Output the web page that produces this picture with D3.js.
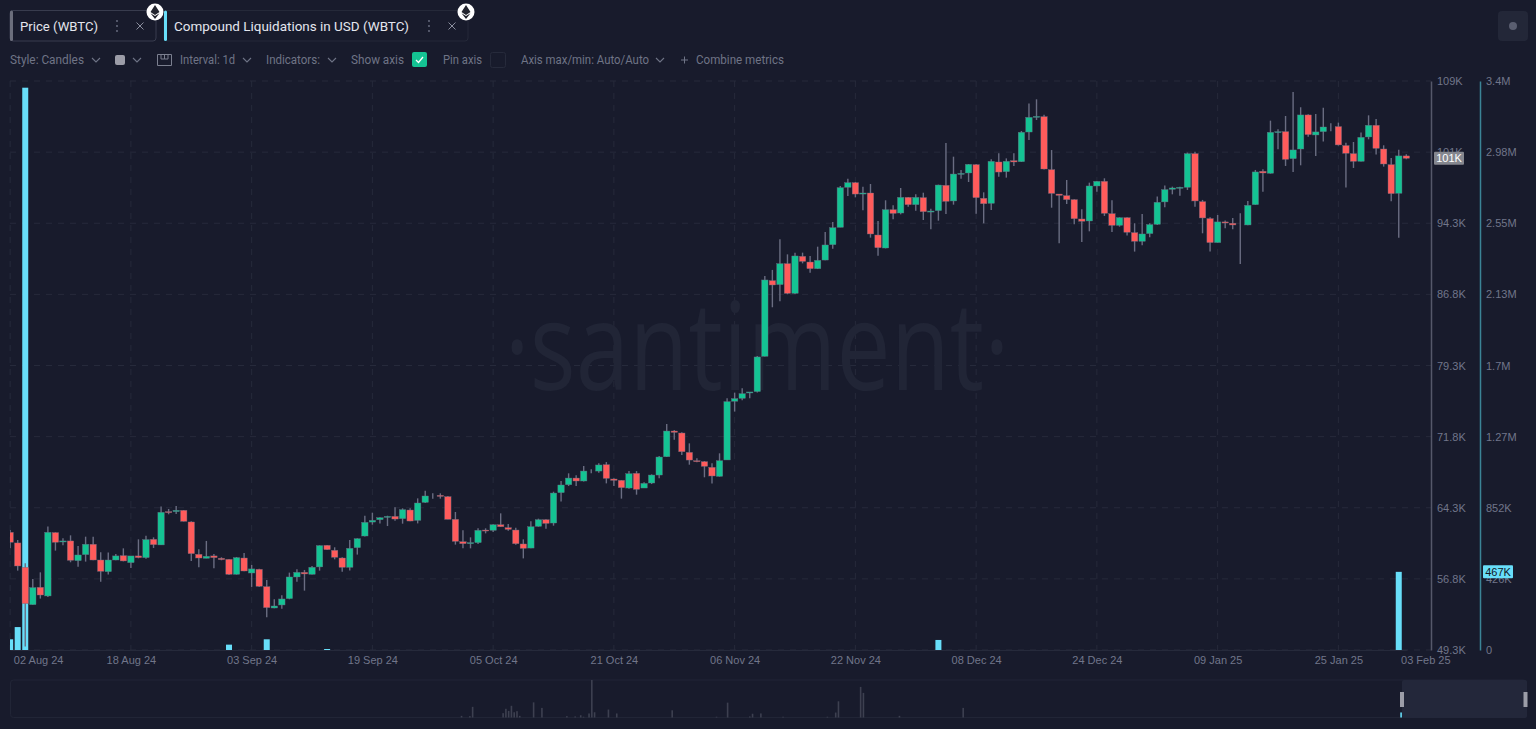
<!DOCTYPE html>
<html>
<head>
<meta charset="utf-8">
<script src="https://cdn.jsdelivr.net/npm/d3@7"></script>
<style>
    html, body { margin: 0; padding: 0; background: #181b2c; overflow: hidden; }
    svg { display: block; }
    .axis text { font-family: "Liberation Sans", sans-serif; font-size: 11px; fill: #71768a; }
    .axis .tick line { display: none; }
    .ui { font-family: Roboto, sans-serif; font-size: 12px; fill: #6f7486; }
    .tab { font-family: Roboto, sans-serif; font-size: 13.5px; fill: #e4e6ee; }
</style>
</head>
<body>
<div id="chart"></div>
<script>
// daily WBTC candles in thousands of USD, 02 Aug 24 -> 03 Feb 25
const opens = [
    61.71,60.59,58.02,54.08,55.91,55.00,61.68,60.69,60.80,58.72,
    59.36,60.45,58.79,57.56,58.79,59.25,58.51,59.22,59.04,60.97,
    60.38,63.89,63.89,64.03,62.80,59.39,58.97,59.22,58.97,58.86,
    57.28,59.00,57.42,57.81,55.98,53.73,54.05,54.72,57.00,57.49,
    57.28,58.06,60.34,59.81,59.00,58.02,60.09,61.32,62.79,63.04,
    63.29,63.39,63.15,64.06,62.97,64.87,65.55,65.61,65.47,63.08,
    60.72,60.51,60.62,61.95,61.92,62.51,62.20,61.95,60.48,60.05,
    62.34,63.04,62.69,65.89,66.73,67.43,67.12,68.15,68.17,68.84,
    67.33,67.19,66.38,67.93,66.38,66.91,67.75,69.68,72.39,72.18,
    70.14,69.26,69.16,68.56,67.61,69.34,75.53,75.84,76.41,76.55,
    80.27,88.25,87.83,90.04,86.91,90.81,90.21,89.51,90.42,92.04,
    93.87,98.09,98.58,97.38,97.49,93.06,91.69,95.73,95.38,97.03,
    96.26,97.00,95.48,95.63,98.30,96.65,99.49,99.60,100.48,96.93,
    96.40,100.76,99.74,100.90,100.79,103.92,105.50,105.54,99.95,97.38,
    97.21,96.79,94.75,94.54,98.23,98.72,95.31,94.08,94.89,93.31,
    92.40,93.21,94.19,96.55,97.88,98.02,98.09,101.64,96.58,94.79,
    92.26,94.44,94.30,94.12,94.12,96.26,99.78,99.57,103.89,103.96,
    101.11,102.13,105.72,103.61,103.96,104.45,104.49,102.49,101.64,100.83,
    103.40,104.63,102.13,100.48,97.46,101.40
];
const closes = [
    60.66,58.16,54.19,55.88,55.10,61.71,60.66,60.80,58.76,59.32,
    60.45,58.79,57.60,58.79,59.22,58.69,59.22,59.04,60.94,60.41,
    63.82,63.79,64.03,62.87,59.46,59.00,59.18,59.04,58.83,57.28,
    59.04,57.63,57.85,56.02,53.77,53.94,54.68,57.00,57.49,57.32,
    58.02,60.31,59.88,59.08,58.02,60.02,61.04,62.76,62.97,63.25,
    63.39,63.11,64.10,62.90,64.80,65.54,65.55,65.50,63.08,60.76,
    60.51,60.62,61.92,61.88,62.51,62.30,62.02,60.51,60.02,62.30,
    63.04,62.65,65.85,66.70,67.43,67.12,68.17,68.15,68.81,67.40,
    67.19,66.42,67.89,66.24,66.87,67.75,69.65,72.39,72.25,70.21,
    69.33,69.16,68.67,67.65,69.26,75.49,75.81,76.33,76.51,80.20,
    88.32,87.79,90.04,86.91,90.85,90.28,89.51,90.39,92.01,93.83,
    98.05,98.58,97.38,97.49,93.17,91.72,95.73,95.34,97.03,96.26,
    97.03,95.52,95.59,98.33,96.61,99.49,99.56,100.51,97.00,96.36,
    100.83,99.70,100.83,100.76,103.89,105.47,105.57,100.02,97.45,97.24,
    96.79,94.78,94.51,98.23,98.72,95.35,94.08,94.89,93.35,92.40,
    93.17,94.16,96.51,97.85,98.02,98.09,101.64,96.65,94.86,92.26,
    94.44,94.33,94.12,94.12,96.19,99.71,99.60,103.89,103.96,101.04,
    102.03,105.72,103.65,103.93,104.45,104.45,102.56,101.68,100.83,103.36,
    104.63,102.20,100.55,97.42,101.40,101.15
];
const highs = [
    61.96,60.90,58.44,56.79,57.49,62.31,61.71,61.08,61.39,60.27,
    61.25,61.25,59.60,59.57,59.43,60.02,59.22,60.97,61.36,61.18,
    64.42,64.17,64.49,64.07,62.87,59.92,60.80,59.43,59.08,58.90,
    59.11,59.53,58.27,57.88,56.69,54.65,55.07,57.46,57.81,57.74,
    58.16,60.34,60.38,60.13,59.08,60.90,61.08,63.46,63.78,63.29,
    63.46,64.34,64.24,64.24,65.29,66.10,65.82,65.82,65.54,63.85,
    61.92,61.18,62.13,62.13,62.55,63.71,62.58,62.20,60.97,62.87,
    63.15,63.08,65.99,67.12,67.93,67.72,68.70,68.35,68.98,69.12,
    67.40,67.22,68.17,68.17,66.98,67.82,69.75,73.13,72.50,72.25,
    71.09,69.51,69.23,68.98,70.04,75.84,76.44,76.90,76.51,80.31,
    88.74,89.38,92.60,91.02,91.20,91.20,90.85,91.83,93.38,94.43,
    98.23,99.00,98.65,98.16,98.44,94.54,96.72,96.19,98.02,97.07,
    97.35,97.52,95.84,98.37,102.76,101.32,99.91,100.55,100.55,97.56,
    101.04,101.67,101.14,101.67,104.03,106.94,107.37,105.75,102.02,97.38,
    98.86,96.82,95.77,98.58,98.76,99.04,96.72,94.93,94.93,94.30,
    95.28,94.30,97.11,98.27,98.16,98.16,101.75,101.85,96.76,94.93,
    95.17,94.58,94.86,95.35,96.65,99.92,99.99,105.12,104.21,105.61,
    108.14,106.53,105.79,105.83,106.49,104.84,104.91,102.80,102.87,103.86,
    105.68,105.30,102.52,101.18,102.06,101.57
];
const lows = [
    60.02,57.67,49.66,54.08,54.72,54.89,59.78,60.34,58.55,58.09,
    58.62,58.76,56.51,57.25,58.76,58.65,57.95,58.97,58.93,60.06,
    60.38,63.61,63.64,62.84,58.69,58.02,58.97,57.91,58.76,57.21,
    57.25,57.60,55.95,55.95,52.75,53.70,53.66,54.65,56.51,55.56,
    57.25,57.67,59.85,58.86,57.56,57.67,59.36,61.28,62.51,62.65,
    62.37,62.94,62.62,62.87,62.65,64.80,65.26,65.26,63.08,60.41,
    60.02,60.02,60.48,61.60,61.74,62.27,61.88,60.41,58.96,60.02,
    62.30,62.09,62.41,64.97,66.59,66.59,67.08,67.93,68.00,66.87,
    66.59,65.26,66.31,65.68,66.38,66.80,67.40,69.65,71.48,69.86,
    68.84,69.09,67.51,66.87,67.58,69.34,74.44,75.63,75.84,76.44,
    80.24,85.44,86.07,86.81,86.84,90.07,89.09,89.47,90.39,91.62,
    93.87,97.17,97.03,95.66,92.78,90.88,91.65,94.71,95.24,96.05,
    95.63,94.64,93.66,94.57,95.27,96.26,99.00,98.65,95.31,94.29,
    95.70,99.21,99.11,100.34,100.76,103.08,105.19,99.98,95.94,92.18,
    96.33,94.19,92.33,93.45,97.63,95.07,93.38,93.94,93.00,91.31,
    91.97,92.82,94.12,95.98,97.35,97.21,97.81,96.05,93.24,91.31,
    92.26,93.77,93.66,90.00,94.08,96.23,97.63,99.53,102.10,100.34,
    99.71,100.41,103.43,101.40,102.91,104.00,102.49,98.06,100.13,100.80,
    103.15,101.54,100.27,96.62,92.78,101.04
];

// compound liquidations, only the days that have any (day index, thousands of USD)
const liqDays = [0, 1, 2, 29, 34, 42, 123, 184];
const liqValues = [64, 137, 3360, 32, 64, 6, 60, 467];

// overview strip at the bottom (4 day bins, millions of USD)
const overviewBins = [163,166,167,178,179,180,181,182,183,184,189,192,201,204,206,207,209,210,211,216,219,239,255,259,267,268,271,279,295,298,299,307,308,321,344,502];
const overviewValues = [1.1,0.9,7.1,2.9,5.8,4.4,7.8,3.5,4.2,1.1,10.1,6.4,0.9,0.7,1.5,0.5,2.7,25,3.5,5.3,2.7,4.8,0.5,9.9,0.7,2.5,2.7,0.5,0.5,3.3,10.8,20.4,16.4,1.1,6.4,3.36];

const priceTicks = [49.3, 56.8, 64.3, 71.8, 79.3, 86.8, 94.3, 101.8, 109.3];
const priceTickLabels = ["49.3K", "56.8K", "64.3K", "71.8K", "79.3K", "86.8K", "94.3K", "101K", "109K"];
const liqTicks = [0, 425, 850, 1275, 1700, 2125, 2550, 2975, 3400];
const liqTickLabels = ["0", "426K", "852K", "1.27M", "1.7M", "2.13M", "2.55M", "2.98M", "3.4M"];
const dateTicks = ["2024-08-02", "2024-08-18", "2024-09-03", "2024-09-19", "2024-10-05", "2024-10-21", "2024-11-06", "2024-11-22", "2024-12-08", "2024-12-24", "2025-01-09", "2025-01-25", "2025-02-03"];

const startDate = new Date(Date.UTC(2024, 7, 2));
const endDate = new Date(Date.UTC(2025, 1, 3));

const colors = { up: "#14c393", down: "#ff5b5b", wick: "#6a6d82", liq: "#68def9", grid: "#262a3b", bg: "#181b2c" };

const svg = d3.select("#chart").append("svg")
    .attr("width", 1536)
    .attr("height", 729);

const plot = { left: 10, right: 1431, top: 81, bottom: 650 };

const x = d3.scaleUtc().domain([startDate, endDate]).range([10.15, 1406.3]);
const yPrice = d3.scaleLinear().domain([49.3, 109.3]).range([plot.bottom, plot.top]);
const yLiq = d3.scaleLinear().domain([0, 3400]).range([plot.bottom, plot.top]);
const dayX = i => x(d3.utcDay.offset(startDate, i));

svg.append("clipPath").attr("id", "plot-clip")
    .append("rect")
    .attr("x", plot.left).attr("y", plot.top - 2)
    .attr("width", plot.right - plot.left).attr("height", plot.bottom - plot.top + 2);

// grid
const gridDates = dateTicks.slice(0, 12).map(d => new Date(d + "T00:00:00Z"));
svg.append("g").selectAll("line").data(gridDates).join("line")
    .attr("x1", d => x(d)).attr("x2", d => x(d))
    .attr("y1", plot.top).attr("y2", plot.bottom)
    .attr("stroke", colors.grid).attr("stroke-dasharray", "6 6");
svg.append("g").selectAll("line").data(priceTicks).join("line")
    .attr("x1", plot.left).attr("x2", plot.right)
    .attr("y1", d => yPrice(d)).attr("y2", d => yPrice(d))
    .attr("stroke", colors.grid).attr("stroke-dasharray", "6 6");

// watermark
svg.append("text")
    .attr("x", 757).attr("y", 390)
    .attr("text-anchor", "middle")
    .attr("font-family", "Open Sans, sans-serif").attr("font-weight", 400)
    .attr("font-size", 122)
    .attr("fill", "#212536")
    .attr("textLength", 505).attr("lengthAdjust", "spacingAndGlyphs")
    .text("\u00b7santiment\u00b7");

const marks = svg.append("g").attr("clip-path", "url(#plot-clip)");

// liquidation bars go under the candles
marks.append("g").selectAll("rect").data(liqDays).join("rect")
    .attr("x", d => dayX(d) - 3)
    .attr("width", 6)
    .attr("y", (d, i) => yLiq(liqValues[i]))
    .attr("height", (d, i) => plot.bottom - yLiq(liqValues[i]))
    .attr("fill", colors.liq);

const candles = marks.append("g").selectAll("g").data(d3.range(opens.length)).join("g");

candles.append("line")
    .attr("x1", i => dayX(i)).attr("x2", i => dayX(i))
    .attr("y1", i => yPrice(highs[i])).attr("y2", i => yPrice(lows[i]))
    .attr("stroke", colors.wick).attr("stroke-width", 1.4);

candles.filter(i => opens[i] !== closes[i]).append("rect")
    .attr("x", i => dayX(i) - 3.2)
    .attr("width", 6.4)
    .attr("y", i => yPrice(Math.max(opens[i], closes[i])))
    .attr("height", i => Math.max(1, Math.abs(yPrice(opens[i]) - yPrice(closes[i]))))
    .attr("fill", i => closes[i] >= opens[i] ? colors.up : colors.down)
    .attr("stroke", colors.wick).attr("stroke-width", 0.4);

// axes
const priceAxis = d3.axisRight(yPrice).tickValues(priceTicks)
    .tickFormat((d, i) => priceTickLabels[i]).tickSize(0).tickPadding(6);
const gPrice = svg.append("g").attr("class", "axis")
    .attr("transform", `translate(${plot.right},0)`)
    .call(priceAxis);
gPrice.select(".domain").attr("stroke", "#55586a").attr("stroke-width", 1.5);

const liqAxis = d3.axisRight(yLiq).tickValues(liqTicks)
    .tickFormat((d, i) => liqTickLabels[i]).tickSize(0).tickPadding(6);
const gLiq = svg.append("g").attr("class", "axis")
    .attr("transform", "translate(1480,0)")
    .call(liqAxis);
gLiq.select(".domain").attr("stroke", "#3b8496").attr("stroke-width", 1.5);

const xAxis = d3.axisBottom(x)
    .tickValues(dateTicks.map(d => new Date(d + "T00:00:00Z")))
    .tickFormat(d3.utcFormat("%d %b %y")).tickSize(0).tickPadding(6);
const gX = svg.append("g").attr("class", "axis")
    .attr("transform", `translate(0,${plot.bottom})`)
    .call(xAxis);
gX.select(".domain").attr("stroke", colors.grid);
// first and last label get pushed inside the plot
gX.selectAll(".tick text").filter((d, i) => i === 0).attr("dx", 28);
gX.selectAll(".tick text").filter((d, i) => i === 12).attr("dx", 19);

// last value badges
function badge(yPos, label, fill, textFill, left) {
    svg.append("rect").attr("x", left).attr("y", yPos - 6.5).attr("width", 30).attr("height", 13)
        .attr("rx", 1).attr("fill", fill);
    svg.append("text").attr("x", left + 15).attr("y", yPos + 4)
        .attr("text-anchor", "middle")
        .attr("font-family", "Liberation Sans, sans-serif").attr("font-size", 11)
        .attr("fill", textFill).text(label);
}
badge(yPrice(closes[closes.length - 1]), "101K", "#85878f", "#ffffff", 1434);
badge(yLiq(liqValues[liqValues.length - 1]), "467K", colors.liq, "#12151f", 1483);

// overview strip
const xOverview = d3.scaleLinear().domain([0, 547]).range([10, 1526]);
const yOverview = d3.scaleLinear().domain([0, 25]).range([717.5, 680]);
svg.append("rect").attr("x", 10.5).attr("y", 680).attr("width", 1516).attr("height", 37.5)
    .attr("rx", 3).attr("fill", "none").attr("stroke", "#212536");
svg.append("rect").attr("x", 1402).attr("y", 680).attr("width", 125).attr("height", 38)
    .attr("rx", 2).attr("fill", "#23273a");
svg.append("g").selectAll("rect").data(overviewBins).join("rect")
    .attr("x", d => xOverview(d) - 1)
    .attr("width", 1.6)
    .attr("y", (d, i) => yOverview(overviewValues[i]))
    .attr("height", (d, i) => 717.5 - yOverview(overviewValues[i]))
    .attr("fill", (d, i) => d === 502 ? colors.liq : "#3d4050");
[1402, 1525.5].forEach(hx => {
    svg.append("rect").attr("x", hx - 2).attr("y", 692).attr("width", 4).attr("height", 15)
        .attr("fill", "#9c9da8");
});

// header chrome
function tab(left, width, accent, border, label, labelWidth, dotsX, closeX, ethX) {
    svg.append("rect").attr("x", left).attr("y", 10.5).attr("width", width).attr("height", 30.5)
        .attr("rx", 3).attr("fill", "none").attr("stroke", border);
    svg.append("rect").attr("x", left).attr("y", 10.5).attr("width", 3).attr("height", 30.5)
        .attr("rx", 1.5).attr("fill", accent);
    svg.append("text").attr("class", "tab").attr("x", left + 10).attr("y", 31)
        .attr("textLength", labelWidth).attr("lengthAdjust", "spacingAndGlyphs").text(label);
    svg.selectAll(null).data([21, 26, 31]).enter().append("circle")
        .attr("cx", dotsX).attr("cy", d => d).attr("r", 0.9).attr("fill", "#6f7486");
    svg.append("path")
        .attr("d", `M${closeX - 3.5},22.5L${closeX + 3.5},29.5M${closeX + 3.5},22.5L${closeX - 3.5},29.5`)
        .attr("stroke", "#8a8e9e").attr("stroke-width", 1);
    svg.append("circle").attr("cx", ethX).attr("cy", 12).attr("r", 8.5).attr("fill", "#ffffff");
    svg.append("path")
        .attr("d", `M${ethX},5L${ethX + 4.5},12L${ethX},15L${ethX - 4.5},12Z M${ethX - 4.5},13.2L${ethX},16L${ethX + 4.5},13.2L${ethX},19Z`)
        .attr("fill", "#22242e");
}
tab(10, 146, "#6b6e7c", "#383c4e", "Price (WBTC)", 78, 117, 140, 155);
tab(164, 304, "#68def9", "#252939", "Compound Liquidations in USD (WBTC)", 235, 429, 452, 466);

function chevron(cx) {
    svg.append("path").attr("d", `M${cx - 4},58L${cx},62L${cx + 4},58`)
        .attr("fill", "none").attr("stroke", "#6f7486").attr("stroke-width", 1.1);
}
const toolbarLabels = [
    { text: "Style: Candles", x: 10, w: 74 },
    { text: "Interval: 1d", x: 180, w: 55 },
    { text: "Indicators:", x: 266, w: 54 },
    { text: "Show axis", x: 351, w: 53 },
    { text: "Pin axis", x: 443, w: 39 },
    { text: "Axis max/min: Auto/Auto", x: 521, w: 128 },
    { text: "Combine metrics", x: 696, w: 88 }
];
svg.append("g").selectAll("text").data(toolbarLabels).join("text")
    .attr("class", "ui").attr("x", d => d.x).attr("y", 64)
    .attr("textLength", d => d.w).attr("lengthAdjust", "spacingAndGlyphs")
    .text(d => d.text);
[96, 137, 247, 332, 660].forEach(chevron);

svg.append("rect").attr("x", 115).attr("y", 55).attr("width", 10).attr("height", 10).attr("rx", 2).attr("fill", "#9c9da8");
svg.append("path").attr("d", "M157.5,54.5H171.5V65.5H157.5Z M161,54.5V59H164.5V54.5 M164.5,54.5V59H168V54.5")
    .attr("fill", "none").attr("stroke", "#7b7f8f");
svg.append("rect").attr("x", 412).attr("y", 52).attr("width", 15).attr("height", 15).attr("rx", 2).attr("fill", colors.up);
svg.append("path").attr("d", "M416,60L418.5,62.5L423,57").attr("fill", "none").attr("stroke", "#fff").attr("stroke-width", 1.3);
svg.append("rect").attr("x", 490.5).attr("y", 52.5).attr("width", 15).attr("height", 15).attr("rx", 2)
    .attr("fill", "none").attr("stroke", "#262a3b");
svg.append("path").attr("d", "M681,60H688M684.5,56.5V63.5").attr("stroke", "#6f7486");

// top right button
svg.append("rect").attr("x", 1498).attr("y", 11).attr("width", 30).attr("height", 30).attr("rx", 4).attr("fill", "#232738");
svg.append("circle").attr("cx", 1513).attr("cy", 26).attr("r", 4).attr("fill", "#5a5e70");
</script>
</body>
</html>
